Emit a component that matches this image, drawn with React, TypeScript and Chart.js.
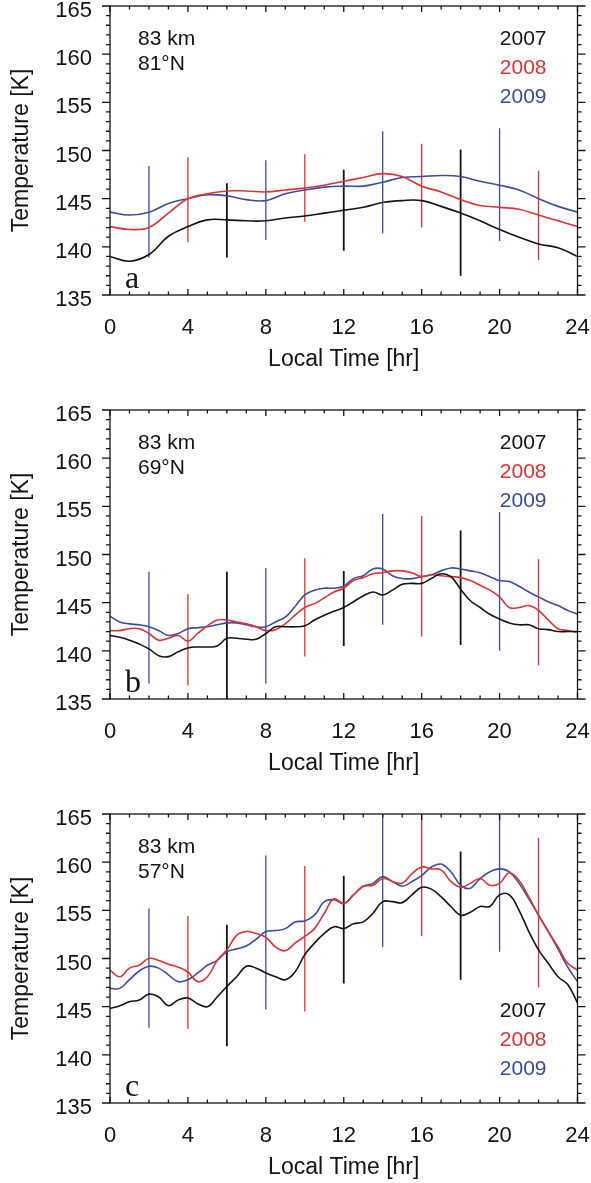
import { useEffect, useRef } from "react";
import { Chart, registerables } from "chart.js";

Chart.register(...registerables);

// local time axis (hours)
const hoursA = [0, 1, 2, 3, 4, 5, 6, 7, 8, 9, 10, 11, 12, 13, 14, 15, 16, 17, 18, 19, 20, 21, 22, 23, 24];
const hoursHalf = [
  0, 0.5, 1, 1.5, 2, 2.5, 3, 3.5, 4, 4.5, 5, 5.5, 6, 6.5, 7, 7.5, 8, 8.5, 9, 9.5, 10, 10.5, 11, 11.5,
  12, 12.5, 13, 13.5, 14, 14.5, 15, 15.5, 16, 16.5, 17, 17.5, 18, 18.5, 19, 19.5, 20, 20.5, 21, 21.5,
  22, 22.5, 23, 23.5, 24,
];

// panel a, 81N
const t2007A = [139.0, 138.5, 139.2, 141.1, 142.1, 142.8, 142.8, 142.7, 142.7, 143.0, 143.2, 143.5, 143.8, 144.1, 144.6, 144.8, 144.8, 144.2, 143.5, 142.7, 141.8, 141.0, 140.3, 139.9, 139.0];
const t2008A = [142.1, 141.8, 142.0, 143.5, 145.0, 145.5, 145.8, 145.8, 145.7, 145.9, 146.1, 146.4, 146.8, 147.2, 147.6, 147.3, 146.3, 145.7, 144.9, 144.3, 144.1, 143.9, 143.3, 142.7, 142.1];
const t2009A = [143.6, 143.3, 143.6, 144.5, 145.0, 145.4, 145.3, 144.9, 144.8, 145.5, 145.9, 146.2, 146.3, 146.3, 146.7, 147.2, 147.3, 147.4, 147.3, 146.8, 146.4, 145.9, 145.0, 144.2, 143.6];

// panel b, 69N
const t2007B = [
  141.6, 141.4, 141.1, 140.7, 140.2, 139.5, 139.4, 139.9, 140.3, 140.4, 140.4, 140.5, 141.3, 141.3, 141.2, 141.2,
  141.8, 142.5, 142.5, 142.5, 142.6, 143.2, 143.7, 144.1, 144.5, 145.1, 145.7, 146.1, 145.8, 146.3, 146.9, 147.0,
  147.0, 147.5, 148.0, 147.7, 146.4, 145.2, 144.5, 143.8, 143.3, 142.9, 142.7, 142.7, 142.3, 142.2, 142.0, 142.0, 142.0,
];
const t2008B = [
  142.1, 142.1, 142.3, 142.3, 141.8, 141.1, 141.3, 141.6, 141.0, 141.8, 142.6, 143.2, 143.2, 143.0, 142.8, 142.5,
  142.1, 142.2, 142.8, 143.7, 144.5, 144.9, 145.5, 146.1, 146.5, 147.3, 147.6, 148.0, 148.1, 148.3, 148.3, 148.1,
  147.7, 147.9, 147.8, 147.7, 147.6, 147.3, 146.8, 146.3, 145.6, 144.5, 144.5, 144.7, 144.2, 143.2, 142.3, 142.1, 141.9,
];
const t2009B = [
  143.6, 143.0, 142.8, 142.7, 142.5, 142.1, 141.6, 141.8, 142.3, 142.4, 142.5, 142.7, 142.9, 142.9, 142.7, 142.5,
  142.5, 143.0, 143.5, 144.6, 145.8, 146.3, 146.5, 146.5, 146.7, 147.5, 147.8, 148.5, 148.5, 147.8, 147.5, 147.5,
  147.7, 147.9, 148.3, 148.6, 148.5, 148.3, 148.1, 147.7, 147.3, 147.2, 146.7, 146.1, 145.6, 145.1, 144.7, 144.2, 143.8,
];

// panel c, 57N
const t2007C = [
  144.8, 145.1, 145.5, 145.7, 146.3, 146.0, 145.1, 145.7, 145.9, 145.3, 145.0, 146.0, 147.1, 148.1, 149.2, 149.0,
  148.5, 148.1, 147.8, 148.6, 150.4, 151.6, 152.6, 153.3, 153.1, 153.6, 153.8, 154.7, 155.9, 155.9, 155.8, 156.6,
  157.4, 157.2, 156.4, 155.4, 154.5, 154.8, 155.4, 155.4, 156.6, 156.6, 155.0, 152.8, 150.9, 149.5, 148.1, 147.3, 145.4,
];
const t2008C = [
  148.8, 148.1, 149.0, 149.3, 150.0, 149.8, 149.4, 149.1, 148.6, 147.6, 148.1, 149.8, 150.9, 152.4, 152.8, 152.6,
  152.2, 151.2, 150.8, 151.6, 152.3, 153.1, 154.7, 156.2, 155.7, 156.6, 157.5, 157.6, 158.3, 158.0, 157.8, 158.8,
  159.5, 159.3, 159.2, 158.0, 157.4, 157.8, 158.3, 157.6, 157.8, 158.9, 158.1, 156.4, 154.5, 152.8, 151.2, 149.5, 148.8,
];
const t2009C = [
  146.9, 146.9, 147.8, 148.7, 149.2, 149.0, 148.3, 147.6, 147.8, 148.5, 149.3, 149.8, 150.7, 151.0, 151.3, 152.0,
  152.8, 152.9, 153.1, 153.8, 153.9, 154.5, 155.9, 156.1, 155.7, 156.6, 157.5, 157.8, 158.5, 158.0, 157.5, 158.0,
  158.6, 159.5, 159.8, 159.0, 157.6, 157.3, 158.3, 159.0, 159.3, 159.0, 157.8, 156.2, 154.5, 152.8, 151.0, 149.1, 147.6,
];

// error bars, every 2 hours, year cycles 2009/2008/2007
const errHours = [2, 4, 6, 8, 10, 12, 14, 16, 18, 20, 22];
const errYears = ["2009", "2008", "2007", "2009", "2008", "2007", "2009", "2008", "2007", "2009", "2008"];
const errLowA = [138.9, 140.5, 138.9, 140.7, 142.6, 139.6, 141.4, 142.0, 137.0, 140.6, 138.6];
const errHighA = [148.4, 149.3, 146.6, 149.0, 149.6, 148.0, 152.0, 150.7, 150.1, 152.3, 147.9];
const errLowB = [136.6, 136.4, 135.0, 136.6, 139.4, 140.5, 142.7, 141.5, 140.6, 140.0, 138.5];
const errHighB = [148.2, 145.9, 148.2, 148.6, 149.6, 148.3, 154.2, 154.0, 152.5, 154.4, 149.5];
const errLowC = [142.8, 142.7, 140.9, 144.7, 144.5, 147.4, 151.2, 152.3, 147.8, 150.7, 147.0];
const errHighC = [155.2, 154.4, 153.5, 160.7, 159.6, 158.6, 165.5, 165.5, 161.1, 165.5, 162.5];

const years = ["2007", "2008", "2009"];
const colors: Record<string, string> = { "2007": "#141414", "2008": "#dc3434", "2009": "#3c4c9e" };
const ink = "#141414";
const sans = "Liberation Sans";

// frame with IDL-style ticks: x ticks inward, y ticks outward on both sides
const frameTicks = {
  id: "frameTicks",
  afterDatasetsDraw(chart: any) {
    const { ctx, chartArea: a, scales } = chart;
    const { x, y } = scales;
    ctx.save();
    ctx.strokeStyle = ink;
    ctx.lineWidth = 1.3;
    ctx.strokeRect(a.left, a.top, a.right - a.left, a.bottom - a.top);
    ctx.beginPath();
    for (let h = 0; h <= 24; h++) {
      const px = x.getPixelForValue(h);
      const len = h % 4 === 0 ? 6 : 3.5;
      ctx.moveTo(px, a.bottom);
      ctx.lineTo(px, a.bottom - len);
      ctx.moveTo(px, a.top);
      ctx.lineTo(px, a.top + len);
    }
    for (let t = 135; t <= 165; t++) {
      const py = y.getPixelForValue(t);
      const len = t % 5 === 0 ? 8 : 4;
      ctx.moveTo(a.left, py);
      ctx.lineTo(a.left - len, py);
      ctx.moveTo(a.right, py);
      ctx.lineTo(a.right + len, py);
    }
    ctx.stroke();
    ctx.restore();
  },
};

function Panel(props: {
  top: number;
  height: number;
  hours: number[];
  series: number[][];
  errLow: number[];
  errHigh: number[];
  lat: string;
  letter: string;
  legendBottom: boolean;
}) {
  const ref = useRef<HTMLCanvasElement>(null);

  useEffect(() => {
    const { hours, series, errLow, errHigh, lat, letter, legendBottom, height } = props;

    const notes = {
      id: "notes",
      afterDraw(chart: any) {
        const { ctx, chartArea: a } = chart;
        ctx.save();
        ctx.font = `21px "${sans}"`;
        ctx.textBaseline = "alphabetic";
        ctx.textAlign = "left";
        ctx.fillStyle = ink;
        ctx.fillText("83 km", a.left + 28, a.top + 39);
        ctx.fillText(lat, a.left + 28, a.top + 64);
        ctx.textAlign = "right";
        const base = legendBottom ? a.top + 203 : a.top + 39;
        years.forEach((yr, i) => {
          ctx.fillStyle = colors[yr];
          ctx.fillText(yr, a.right - 31, base + i * 29);
        });
        ctx.textAlign = "left";
        ctx.fillStyle = ink;
        ctx.font = `32px "Liberation Serif"`;
        ctx.fillText(letter, a.left + 15, a.bottom - 7);
        ctx.restore();
      },
    };

    const lineSets = years.map((yr, k) => ({
      label: yr,
      data: hours.map((h, i) => ({ x: h, y: series[k][i] })),
      borderColor: colors[yr],
      borderWidth: 1.6,
      pointRadius: 0,
      tension: 0.4,
      fill: false,
    }));
    const barSets = errHours.map((h, i) => ({
      label: "err " + errYears[i],
      data: [
        { x: h, y: errLow[i] },
        { x: h, y: errHigh[i] },
      ],
      borderColor: colors[errYears[i]],
      borderWidth: errYears[i] === "2007" ? 1.8 : 1.3,
      pointRadius: 0,
      fill: false,
    }));

    const tickFont = { family: sans, size: 22 };
    const titleFont = { family: sans, size: 23 };

    const chart = new Chart(ref.current!, {
      type: "line",
      data: { datasets: [...lineSets, ...barSets] as any },
      options: {
        animation: false,
        responsive: false,
        maintainAspectRatio: false,
        layout: { padding: { top: 6, right: 13.5, left: 0, bottom: 0 } },
        plugins: { legend: { display: false }, tooltip: { enabled: false } },
        scales: {
          x: {
            type: "linear",
            min: 0,
            max: 24,
            ticks: { stepSize: 4, padding: 20, color: ink, font: tickFont, maxRotation: 0, autoSkip: false },
            grid: { display: false, drawTicks: false },
            border: { display: false },
            title: {
              display: true,
              text: "Local Time [hr]",
              color: ink,
              font: titleFont,
              padding: { top: 0, bottom: height - 360 - 13.8 },
            },
            afterFit: (s: any) => {
              s.height = height - 295;
              s.paddingLeft = 0;
              s.paddingRight = 0;
            },
          },
          y: {
            min: 135,
            max: 165,
            ticks: { stepSize: 5, padding: 18, color: ink, font: tickFont, labelOffset: 5 },
            grid: { display: false, drawTicks: false },
            border: { display: false },
            title: {
              display: true,
              text: "Temperature [K]",
              color: ink,
              font: titleFont,
              padding: { top: 8, bottom: 0 },
            },
            afterFit: (s: any) => {
              s.width = 110;
              s.paddingTop = 0;
              s.paddingBottom = 0;
            },
          },
        },
      },
      plugins: [frameTicks, notes],
    });
    return () => chart.destroy();
  }, []);

  return (
    <canvas
      ref={ref}
      width={591}
      height={props.height}
      style={{ position: "absolute", left: 0, top: props.top, display: "block" }}
    />
  );
}

export default function App() {
  return (
    <div style={{ position: "absolute", left: 0, top: 0, width: 591, height: 1183, overflow: "hidden", background: "#fff" }}>
      <Panel top={0} height={404} hours={hoursA} series={[t2007A, t2008A, t2009A]} errLow={errLowA} errHigh={errHighA} lat="81°N" letter="a" legendBottom={false} />
      <Panel top={404} height={404} hours={hoursHalf} series={[t2007B, t2008B, t2009B]} errLow={errLowB} errHigh={errHighB} lat="69°N" letter="b" legendBottom={false} />
      <Panel top={808} height={375} hours={hoursHalf} series={[t2007C, t2008C, t2009C]} errLow={errLowC} errHigh={errHighC} lat="57°N" letter="c" legendBottom={true} />
    </div>
  );
}
